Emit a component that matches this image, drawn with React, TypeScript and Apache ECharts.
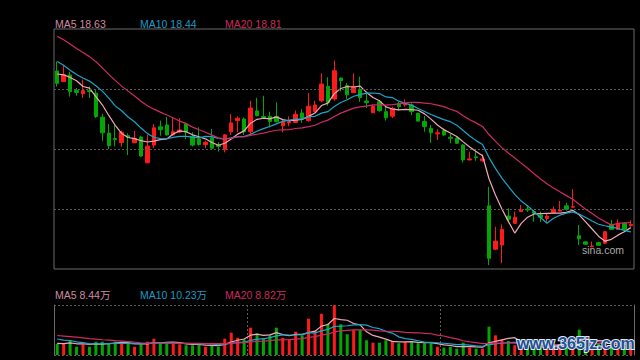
import React, { useEffect, useRef } from 'react';
import * as echarts from 'echarts';

// ---- price data (one entry per trading day) ----
const opens = [
  24.59, 24.18, 24.44, 23.84, 23.72, 23.84, 23.74, 22.82, 22.21, 22.0,
  21.85, 22.11, 21.84, 22.06, 21.07, 21.75, 22.45, 22.52, 22.14, 22.25,
  22.56, 22.09, 21.98, 21.77, 22.02, 21.75, 21.57, 22.26, 22.69, 22.75,
  22.26, 23.06, 22.85, 22.85, 22.85, 22.49, 22.6, 22.62, 22.98, 22.69,
  23.03, 23.45, 24.0, 23.52, 24.32, 24.03, 23.76, 23.89, 23.44, 22.99,
  23.41, 23.03, 22.86, 23.35, 23.29, 23.29, 22.97, 22.65, 22.39, 22.18,
  22.3, 22.05, 22.01, 21.75, 21.18, 21.3, 21.15, 19.42, 17.76, 17.92,
  19.03, 18.75, 19.2, 19.3, 19.2, 19.07, 18.94, 19.16, 19.22, 19.42,
  19.37, 18.27, 18.04, 17.86, 18.01, 17.99, 18.71, 18.52, 18.75, 18.66,
];
const closes = [
  24.12, 24.45, 23.8, 23.77, 23.84, 23.8, 22.84, 22.22, 21.73, 21.96,
  22.24, 22.05, 22.01, 21.33, 21.71, 22.41, 22.34, 22.14, 22.26, 22.33,
  22.24, 21.75, 21.77, 21.86, 21.63, 21.7, 22.14, 22.6, 22.78, 22.26,
  23.17, 22.88, 22.81, 22.65, 22.65, 22.65, 22.65, 22.93, 22.78, 23.24,
  23.29, 24.09, 23.39, 24.6, 24.22, 23.68, 23.99, 23.57, 23.38, 23.25,
  23.07, 22.8, 23.16, 23.22, 23.35, 23.03, 22.67, 22.46, 22.22, 22.22,
  22.14, 22.01, 21.82, 21.18, 21.22, 21.27, 21.22, 17.41, 18.07, 18.52,
  18.91, 18.98, 19.26, 19.26, 19.14, 18.98, 19.03, 19.29, 19.26, 19.29,
  19.39, 18.16, 17.95, 17.88, 17.91, 18.43, 18.52, 18.75, 18.52, 18.71,
];
const lows = [
  23.99, 24.17, 23.61, 23.64, 23.56, 23.56, 22.79, 21.91, 21.6, 21.7,
  21.69, 21.37, 21.83, 21.3, 21.06, 21.64, 22.11, 22.11, 22.11, 22.21,
  21.98, 21.7, 21.73, 21.63, 21.6, 21.5, 21.47, 22.14, 22.24, 22.14,
  22.17, 22.85, 22.75, 22.43, 22.62, 22.24, 22.47, 22.6, 22.6, 22.65,
  23.01, 23.39, 23.26, 23.45, 23.8, 23.52, 23.75, 23.41, 23.17, 22.97,
  23.03, 22.69, 22.79, 23.07, 23.22, 22.9, 22.65, 22.26, 21.84, 21.95,
  22.1, 21.82, 21.79, 21.08, 21.17, 21.15, 21.11, 17.15, 17.73, 17.22,
  18.81, 18.73, 19.19, 19.19, 18.81, 18.8, 18.81, 19.14, 19.2, 19.24,
  19.34, 17.92, 17.92, 17.83, 17.88, 17.96, 18.5, 18.5, 18.5, 18.62,
];
const highs = [
  24.95, 24.82, 24.56, 23.94, 24.26, 24.0, 23.86, 22.95, 22.56, 22.56,
  22.3, 22.2, 22.29, 22.11, 22.14, 22.56, 22.69, 22.83, 22.78, 22.78,
  22.62, 22.24, 22.43, 21.92, 22.37, 21.86, 22.18, 22.94, 22.85, 22.81,
  23.45, 23.56, 23.64, 23.03, 23.39, 22.75, 22.85, 23.07, 23.13, 23.75,
  23.45, 24.5, 24.35, 24.99, 24.34, 24.13, 24.5, 24.37, 23.8, 23.28,
  23.48, 23.22, 23.22, 23.41, 23.5, 23.35, 22.99, 22.86, 22.52, 22.36,
  22.39, 22.18, 22.1, 21.79, 21.5, 21.5, 21.4, 20.15, 18.62, 18.71,
  19.33, 19.2, 19.45, 19.45, 19.26, 19.2, 19.14, 19.39, 19.61, 19.54,
  20.06, 18.69, 18.06, 18.05, 18.05, 18.46, 18.88, 18.9, 18.8, 18.87,
];
// volumes in 万
const volumes = [
  9.4, 9.4, 12.3, 6.9, 8.9, 6.9, 11.1, 11.1, 9.8, 11.1,
  9.8, 9.8, 6.9, 8.9, 11.1, 13.6, 9.8, 9.8, 9.8, 8.9,
  8.1, 8.1, 8.9, 6.9, 8.1, 6.9, 13.6, 18.6, 14.4, 13.1,
  22.8, 17.8, 13.6, 16.4, 22.8, 14.4, 13.1, 19.4, 16.4, 30.3,
  20.0, 34.4, 26.1, 41.5, 25.6, 17.3, 20.8, 20.8, 12.3, 10.3,
  10.3, 12.3, 11.7, 9.8, 10.8, 10.8, 9.8, 9.8, 9.8, 6.9,
  6.1, 6.9, 5.3, 10.3, 6.1, 5.3, 5.3, 23.6, 16.4, 12.5,
  11.7, 8.1, 6.5, 7.2, 6.0, 5.8, 6.6, 8.4, 6.9, 6.9,
  12.4, 21.1, 9.6, 7.9, 9.1, 11.2, 8.3, 7.9, 7.6, 7.2,
];
// the 19 sessions before the visible window (feed the moving averages)
const priorCloses = [
  27.0, 27.2, 27.1, 26.9, 27.0, 26.8, 26.9, 26.7, 26.6, 26.6,
  25.9, 25.7, 25.4, 25.2, 25.0, 24.6, 24.3, 24.4, 24.95,
];
const priorVolumes = [
  18.5, 21.0, 17.2, 20.4, 19.6, 18.0, 22.1, 17.5, 19.8, 17.6,
  18.2, 15.9, 17.8, 16.4, 16.3, 10.5, 9.2, 10.8, 8.8,
];

const maPeriods = [5, 10, 20];
const priceLegend = ['MA5 18.63', 'MA10 18.44', 'MA20 18.81'];
const volumeLegend = ['MA5 8.44万', 'MA10 10.23万', 'MA20 8.82万'];
const priceGridLines = [19.3, 21.6, 23.9];
const priceMin = 17;
const priceMax = 26.2;
const volumeMax = 41.7;
const sectionBreaks = [30, 60];
const categories = closes.map((_, i) => String(i + 1));

const RED = '#ff1a1a';
const GREEN = '#00a800';
const LINE_COLORS = ['#f0a8b8', '#1aa6c8', '#d02a62'];
const TEXT_COLORS = ['#d08aa0', '#1e9ac2', '#cc2a5e'];
const FONT = '"Liberation Sans", Arial, "Noto Sans CJK SC", sans-serif';

function movingAverage(history: number[], values: number[], n: number) {
  const all = history.concat(values);
  return values.map((_, i) => {
    const end = history.length + i;
    let s = 0;
    for (let k = end - n + 1; k <= end; k++) s += all[k];
    return +(s / n).toFixed(3);
  });
}

export default function App() {
  const ref = useRef<HTMLDivElement>(null);
  useEffect(() => {
    document.body.style.margin = '0';
    document.body.style.background = '#000';
    const chart = echarts.init(ref.current!, undefined, { renderer: 'svg' });
    const legendX = [55, 140, 225];
    const dotted = { color: '#5a5a5a', width: 1, type: [2, 2] as any };
    const candleData = opens.map((o, i) => [o, closes[i], lows[i], highs[i]]);
    const volData = volumes.map((v, i) => ({
      value: v,
      itemStyle: { color: closes[i] > opens[i] ? RED : GREEN },
    }));
    const texts: any[] = [];
    priceLegend.forEach((t, i) =>
      texts.push({
        type: 'text', x: legendX[i], y: 24.3,
        style: { text: t, fill: TEXT_COLORS[i], font: `10.5px ${FONT}`, verticalAlign: 'middle' },
      })
    );
    volumeLegend.forEach((t, i) =>
      texts.push({
        type: 'text', x: legendX[i], y: 295,
        style: { text: t, fill: TEXT_COLORS[i], font: `10.5px ${FONT}`, verticalAlign: 'middle' },
      })
    );
    texts.push({
      type: 'text', x: 582, y: 249.5, z: 100,
      style: { text: 'sina.com', fill: '#a8a8a8', font: `10.5px ${FONT}`, verticalAlign: 'middle' },
    });
    texts.push({
      type: 'text', x: 517, y: 343, z: 100,
      style: {
        text: 'www.365jz.com', fill: '#1d4f91', stroke: '#dfe7f2', lineWidth: 2,
        font: `bold 16px ${FONT}`, verticalAlign: 'middle',
      },
    });

    const priceMAs = maPeriods.map((n) => movingAverage(priorCloses, closes, n));
    const volMAs = maPeriods.map((n) => movingAverage(priorVolumes, volumes, n));

    chart.setOption({
      animation: false,
      backgroundColor: '#000',
      grid: [
        { left: 54, top: 29, width: 580, height: 240, show: true, borderColor: '#6a6a6a', borderWidth: 1, backgroundColor: 'transparent' },
        { left: 54, top: 305, width: 580, height: 50 },
      ],
      xAxis: [
        { type: 'category', gridIndex: 0, data: categories, boundaryGap: true, axisLine: { show: false }, axisTick: { show: false }, axisLabel: { show: false }, splitLine: { show: false } },
        {
          type: 'category', gridIndex: 1, data: categories, boundaryGap: true,
          axisLine: { show: false }, axisTick: { show: false }, axisLabel: { show: false },
          splitLine: { show: true, interval: (i: number) => sectionBreaks.includes(i), lineStyle: dotted },
        },
      ],
      yAxis: [
        { type: 'value', gridIndex: 0, min: priceMin, max: priceMax, axisLine: { show: false }, axisTick: { show: false }, axisLabel: { show: false }, splitLine: { show: false } },
        {
          type: 'value', gridIndex: 1, min: 0, max: volumeMax, interval: volumeMax,
          axisLine: { show: true, lineStyle: { color: '#6a6a6a' } }, axisTick: { show: false }, axisLabel: { show: false },
          splitLine: { show: true, lineStyle: dotted },
        },
        {
          type: 'value', gridIndex: 1, position: 'right', min: 0, max: volumeMax,
          axisLine: { show: true, lineStyle: { color: '#6a6a6a' } }, axisTick: { show: false }, axisLabel: { show: false }, splitLine: { show: false },
        },
      ],
      series: [
        {
          type: 'candlestick', xAxisIndex: 0, yAxisIndex: 0, data: candleData, barWidth: 4,
          itemStyle: { color: RED, color0: GREEN, borderColor: RED, borderColor0: GREEN, borderWidth: 1 },
          markLine: {
            silent: true, symbol: ['none', 'none'], label: { show: false },
            lineStyle: dotted, data: priceGridLines.map((v) => ({ yAxis: v })),
          },
        },
        ...priceMAs.map((d, i) => ({
          type: 'line', xAxisIndex: 0, yAxisIndex: 0, data: d, showSymbol: false, silent: true,
          lineStyle: { color: LINE_COLORS[i], width: 1.2 },
        })),
        { type: 'bar', xAxisIndex: 1, yAxisIndex: 1, data: volData, barWidth: 3 },
        ...volMAs.map((d, i) => ({
          type: 'line', xAxisIndex: 1, yAxisIndex: 1, data: d, showSymbol: false, silent: true,
          lineStyle: { color: LINE_COLORS[i], width: 1.2 },
        })),
      ],
      graphic: texts,
    });
    return () => chart.dispose();
  }, []);
  return (
    <div
      ref={ref}
      style={{ position: 'fixed', left: 0, top: 0, width: 640, height: 360, background: '#000' }}
    />
  );
}
